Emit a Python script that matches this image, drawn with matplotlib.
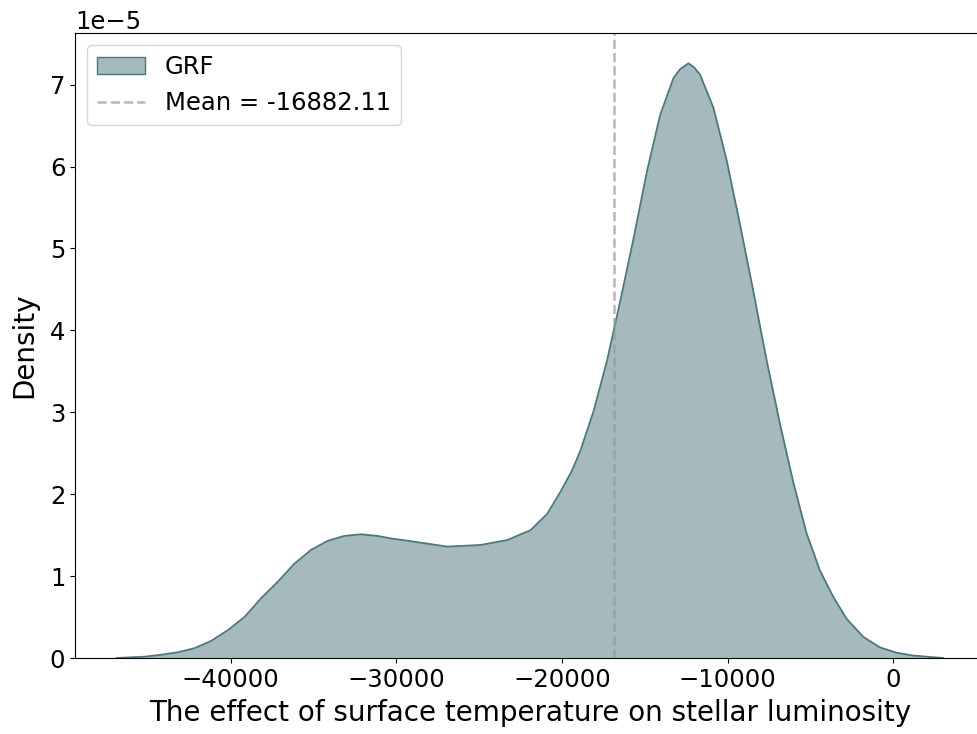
import matplotlib
matplotlib.use("Agg")
import matplotlib.pyplot as plt
from matplotlib.patches import Patch
from matplotlib.lines import Line2D

# Data (x in effect units, density in units of 1e-5)
effect = [-46900, -45190, -44190, -43180, -42180, -41170, -40170, -39170,
          -38160, -37160, -36160, -35150, -34140, -33140, -32140, -31130,
          -30330, -28930, -26920, -24910, -23300, -21900, -20890, -20090,
          -19390, -18890, -18080, -17280, -16480, -15670, -14870, -14070,
          -13270, -12860, -12360, -12020, -11660, -10860, -10050, -9250,
          -8450, -7640, -6840, -6040, -5230, -4430, -3630, -2820,
          -1820, -810, 190, 1190, 3000]
density_e5 = [0.0, 0.016, 0.04, 0.07, 0.12, 0.21, 0.34, 0.50,
              0.73, 0.93, 1.15, 1.32, 1.43, 1.49, 1.51, 1.49,
              1.46, 1.42, 1.36, 1.38, 1.44, 1.56, 1.76, 2.03,
              2.29, 2.53, 3.02, 3.63, 4.36, 5.13, 5.94, 6.63,
              7.08, 7.19, 7.26, 7.21, 7.12, 6.72, 6.07, 5.29,
              4.48, 3.63, 2.86, 2.15, 1.52, 1.07, 0.75, 0.48,
              0.26, 0.13, 0.065, 0.03, 0.0]
mean_value = -16882.11
series_label = "GRF"
xlabel = "The effect of surface temperature on stellar luminosity"
ylabel = "Density"

density = [d * 1e-5 for d in density_e5]

fig = plt.figure(figsize=(9.77, 7.34), dpi=100)
ax = fig.add_axes([75/977, 1 - 658/734, (986 - 75)/977, (658 - 33)/734])

fill_col = "#a6babd"
edge_col = "#4a787c"
ax.fill_between(effect, density, 0, color=fill_col, linewidth=0)
ax.plot(effect, density, color=edge_col, linewidth=1.3, solid_joinstyle="round")
ax.axvline(mean_value, color="#999999", linestyle="--", linewidth=1.8, alpha=0.7)

ax.set_xlim(-49400, 5600)
ax.set_ylim(0, 7.63e-5)
ax.set_xticks([-40000, -30000, -20000, -10000, 0])
ax.set_yticks([0, 1e-5, 2e-5, 3e-5, 4e-5, 5e-5, 6e-5, 7e-5])
ax.tick_params(labelsize=17.5)
ax.yaxis.get_offset_text().set_fontsize(17.5)
ax.set_xlabel(xlabel, fontsize=20, labelpad=5.5)
ax.set_ylabel(ylabel, fontsize=20, labelpad=8)

handles = [Patch(facecolor=fill_col, edgecolor=edge_col, label=series_label),
           Line2D([0], [0], color="#999999", linestyle="--", alpha=0.7, lw=1.8,
                  label=f"Mean = {mean_value:.2f}")]
ax.legend(handles=handles, loc="upper left", fontsize=17.5)

fig.savefig("out.png", dpi=100)
